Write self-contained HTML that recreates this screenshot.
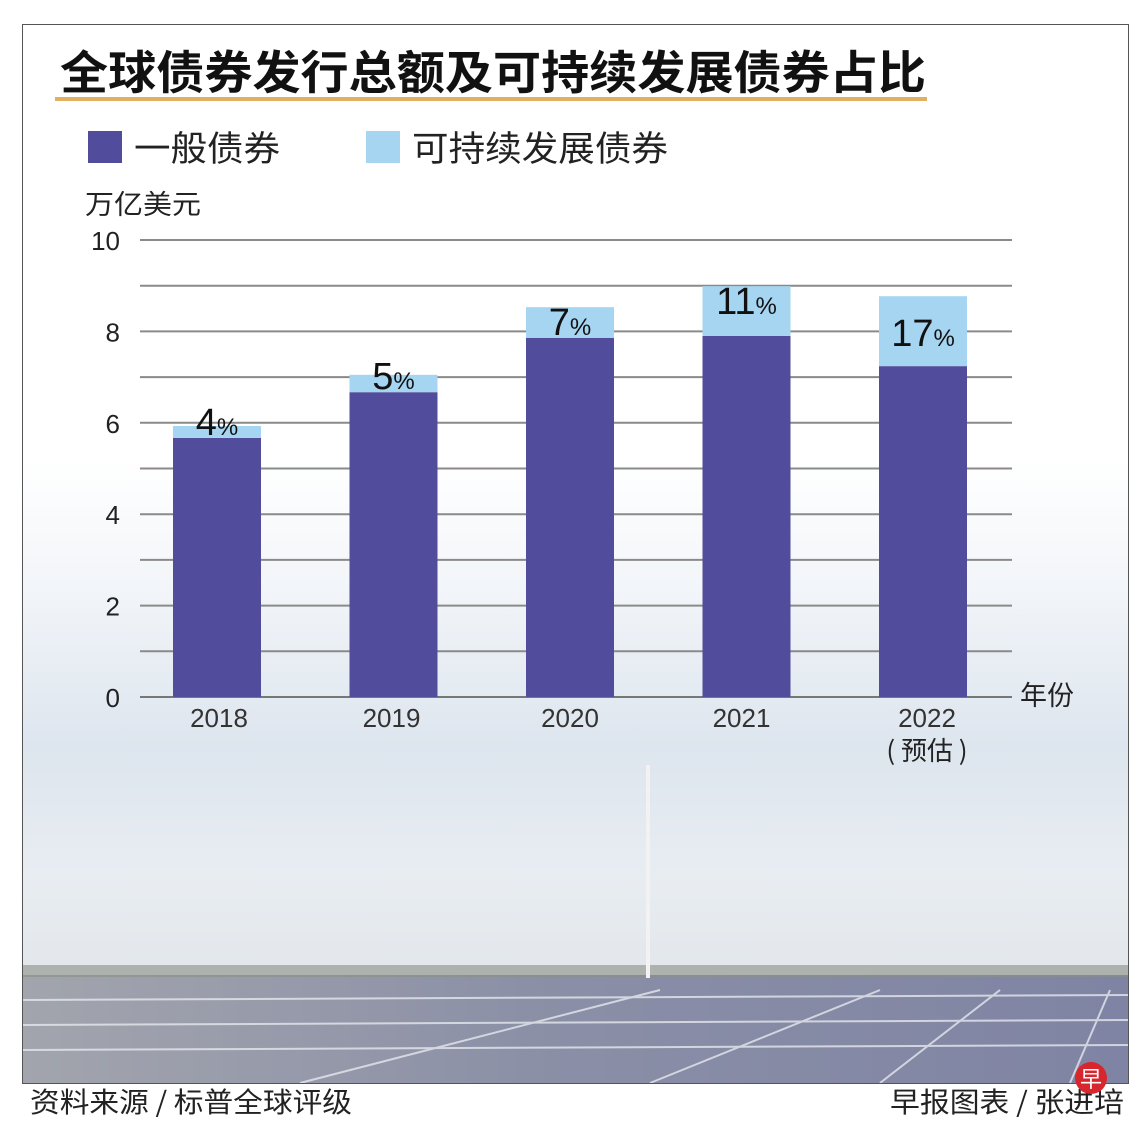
<!DOCTYPE html>
<html><head><meta charset="utf-8"><style>
html,body{margin:0;padding:0;background:#fff;}
body{width:1140px;height:1127px;position:relative;overflow:hidden;font-family:"Liberation Sans","Noto Sans CJK SC",sans-serif;}
</style></head><body>
<svg id="chart" width="1140" height="1127" viewBox="0 0 1140 1127" xmlns="http://www.w3.org/2000/svg" style="position:absolute;left:0;top:0">
<defs>
<linearGradient id="sky" x1="0" y1="0" x2="0" y2="1">
<stop offset="0" stop-color="#ffffff"/>
<stop offset="0.25" stop-color="#f2f5f9"/>
<stop offset="0.55" stop-color="#dde5ee"/>
<stop offset="0.8" stop-color="#e8edf2"/>
<stop offset="1" stop-color="#e2e6eb"/>
</linearGradient>
<linearGradient id="panel" x1="0" y1="0" x2="1" y2="0">
<stop offset="0" stop-color="#a2a5ad"/>
<stop offset="0.5" stop-color="#8a8ea6"/>
<stop offset="1" stop-color="#7f84a4"/>
</linearGradient>
</defs>
<rect x="0" y="0" width="1140" height="1127" fill="#fff"/>
<rect x="23" y="460" width="1105" height="520" fill="url(#sky)"/>
<rect x="23" y="24" width="1105" height="440" fill="#fff" opacity="0.9"/>
<rect x="23" y="975" width="1105" height="108" fill="url(#panel)"/>
<rect x="23" y="965" width="1105" height="12" fill="#8a8f86" opacity="0.6"/>
<g stroke="#e6e8ee" stroke-width="2" opacity="0.8">
<line x1="23" y1="1000" x2="1128" y2="995"/><line x1="23" y1="1025" x2="1128" y2="1020"/><line x1="23" y1="1050" x2="1128" y2="1045"/>
<line x1="300" y1="1083" x2="660" y2="990"/><line x1="650" y1="1083" x2="880" y2="990"/><line x1="880" y1="1083" x2="1000" y2="990"/><line x1="1070" y1="1083" x2="1110" y2="990"/>
</g>
<line x1="648" y1="765" x2="648" y2="978" stroke="#f2f2f2" stroke-width="4"/>
<rect x="22.5" y="24.5" width="1106" height="1059" fill="none" stroke="#555" stroke-width="1"/>
<text x="60" y="89" font-size="46" font-weight="bold" fill="#111" textLength="866" lengthAdjust="spacingAndGlyphs" font-family="'Noto Sans CJK SC',sans-serif">全球债券发行总额及可持续发展债券占比</text>
<rect x="55" y="97" width="872" height="4" fill="#e0b060"/>
<rect x="88" y="131" width="34" height="32" fill="#514c9b"/>
<text x="134" y="161" font-size="35" fill="#222" textLength="146" lengthAdjust="spacingAndGlyphs" font-family="'Noto Sans CJK SC',sans-serif">一般债券</text>
<rect x="366" y="131" width="34" height="32" fill="#a6d5f1"/>
<text x="412" y="161" font-size="35" fill="#222" textLength="256" lengthAdjust="spacingAndGlyphs" font-family="'Noto Sans CJK SC',sans-serif">可持续发展债券</text>
<text x="85" y="214" font-size="27" fill="#222" textLength="116" lengthAdjust="spacingAndGlyphs" font-family="'Noto Sans CJK SC',sans-serif">万亿美元</text>
<g id="grid"></g><g id="yt"></g><g id="bars"></g><g id="xt"></g>
<text x="1020" y="705" font-size="27" fill="#222" font-family="'Noto Sans CJK SC',sans-serif">年份</text>
<text x="30" y="1112" font-size="28" fill="#222" textLength="322" lengthAdjust="spacingAndGlyphs" font-family="'Noto Sans CJK SC',sans-serif">资料来源 / 标普全球评级</text>
<text x="890" y="1112" font-size="28" fill="#222" textLength="234" lengthAdjust="spacingAndGlyphs" font-family="'Noto Sans CJK SC',sans-serif">早报图表 / 张进培</text>
<circle cx="1091" cy="1078" r="16" fill="#d8262f"/>
<text x="1091" y="1087" font-size="22" fill="#fff" text-anchor="middle" font-family="'Noto Sans CJK SC',sans-serif">早</text>
</svg>
<script>
const years = ["2018","2019","2020","2021","2022"];
const general = [5.67, 6.67, 7.86, 7.9, 7.24];
const sustainable = [0.26, 0.38, 0.67, 1.09, 1.53];
const pctLabels = ["4","5","7","11","17"];
const yTicks = [0,2,4,6,8,10];
const NS="http://www.w3.org/2000/svg";
const y0=697, y1=240, yMax=10;
function yS(v){return y0-(v/yMax)*(y0-y1);}
function xS(i){return 173+i*176.5;}
const BW=88;
function mk(t,a,p){const e=document.createElementNS(NS,t);for(const k in a)e.setAttribute(k,a[k]);p.appendChild(e);return e;}
const grid=document.getElementById('grid'), yt=document.getElementById('yt'), bars=document.getElementById('bars'), xt=document.getElementById('xt');
for(let v=0;v<=yMax;v++){
  const l=mk('line',{x1:140,x2:1012,y1:yS(v),y2:yS(v),stroke:v===0?'#777':'#8a8a8a','stroke-width':2},grid);
  
  
}
yTicks.forEach(v=>{
  const t=mk('text',{x:120,y:yS(v)+10,'font-size':26,fill:'#222','text-anchor':'end'},yt);
  t.textContent=v;
  
  
});
years.forEach((yr,i)=>{
  const x=xS(i), tot=general[i]+sustainable[i];
  const g=mk('rect',{x:x,y:yS(general[i]),width:BW,height:y0-yS(general[i]),fill:'#514c9b'},bars);
  
  
  const s=mk('rect',{x:x,y:yS(tot),width:BW,height:yS(general[i])-yS(tot),fill:'#a6d5f1'},bars);
  
  
  const t=mk('text',{x:x+BW/2,y:yS(tot)+(i===0?9:i===1?14:i===4?50:28),'font-size':38,fill:'#111','text-anchor':'middle'},bars);
  
  
  t.textContent=pctLabels[i];
  const sp=mk('tspan',{'font-size':24},t); sp.textContent='%';
  const xl=mk('text',{x:x+BW/2+(i===4?4:i===0?2:(i===1?-2:(i===3?-5:0))),y:727,'font-size':26,fill:'#333','text-anchor':'middle'},xt);
  xl.textContent=yr;
  
  
});
const est=mk('text',{x:927,y:760,'font-size':26,fill:'#222','text-anchor':'middle','font-family':"'Noto Sans CJK SC',sans-serif"},xt);
est.textContent='( 预估 )';


</script>
</body></html>
